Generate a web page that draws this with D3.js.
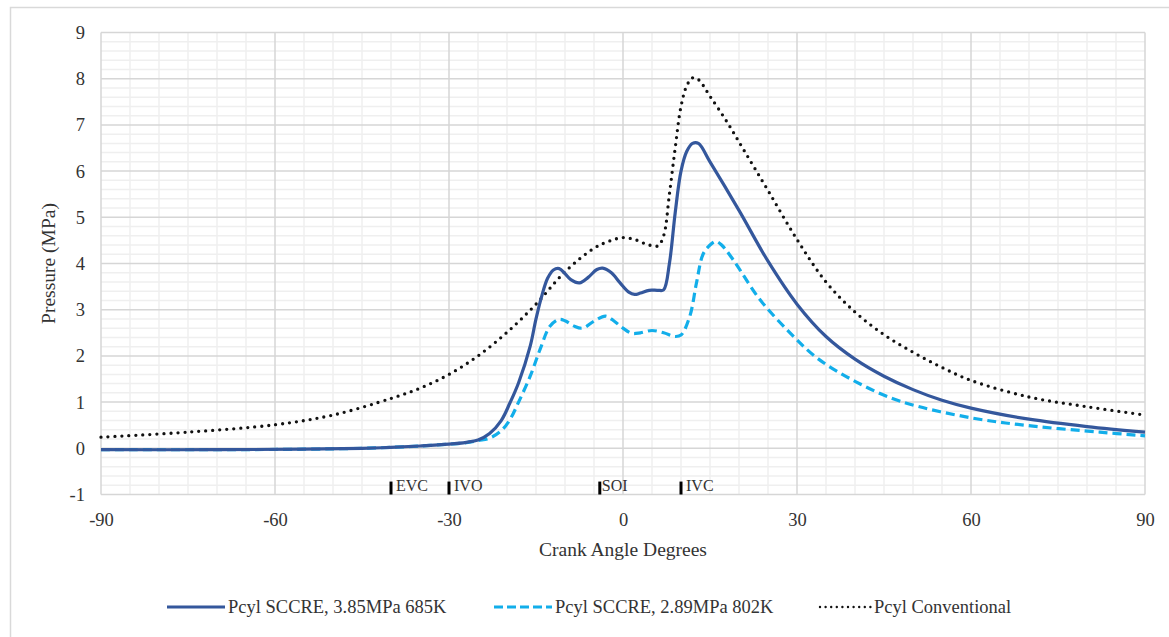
<!DOCTYPE html>
<html>
<head>
<meta charset="utf-8">
<script src="https://cdn.jsdelivr.net/npm/d3@7"></script>
<style>
  body { margin: 0; background: #fff; }
  text { font-family: "Liberation Serif", "DejaVu Serif", serif; fill: #333; }
</style>
</head>
<body>
<div id="chart"></div>
<script>
const width = 1169;
const height = 637;
const serif = "'Liberation Serif', 'DejaVu Serif', serif";

// Crank angle (deg) and cylinder pressure (MPa)
const angleA = [-90, -70, -55, -45, -40, -35, -30, -27, -25, -23, -21, -19.5, -18, -16, -15, -14, -13, -12, -11, -10, -9, -7.5, -6, -4.5, -3.5, -2, -0.5, 1, 2, 3, 4.5, 6, 7, 8, 9, 10, 11, 12, 13, 15, 20, 25, 30, 35, 40, 45, 50, 55, 60, 70, 80, 90];
const pressA = [-0.03, -0.03, -0.02, 0.0, 0.02, 0.05, 0.09, 0.13, 0.18, 0.32, 0.6, 0.98, 1.42, 2.21, 2.8, 3.3, 3.68, 3.86, 3.89, 3.78, 3.65, 3.58, 3.7, 3.87, 3.9, 3.8, 3.58, 3.38, 3.33, 3.36, 3.42, 3.42, 3.43, 4.0, 5.1, 6.0, 6.43, 6.6, 6.6, 6.2, 5.15, 4.05, 3.12, 2.42, 1.93, 1.56, 1.27, 1.04, 0.87, 0.63, 0.47, 0.35];

const angleB = [-90, -70, -55, -45, -40, -35, -30, -27, -25, -23, -21, -19.5, -18, -16, -14.3, -12.6, -11, -10, -8.5, -7, -5, -3, -1.5, 0, 1.5, 3, 5, 7, 9, 10, 11.5, 12.7, 13.8, 15, 16, 17, 19, 23.6, 28.8, 33.4, 40, 47.8, 60, 70.7, 82.2, 90];
const pressB = [-0.03, -0.03, -0.02, 0.0, 0.02, 0.05, 0.09, 0.12, 0.17, 0.22, 0.38, 0.62, 1.0, 1.56, 2.14, 2.64, 2.79, 2.76, 2.65, 2.6, 2.75, 2.86, 2.75, 2.6, 2.49, 2.5, 2.55, 2.5, 2.42, 2.45, 2.85, 3.6, 4.2, 4.4, 4.48, 4.4, 4.08, 3.22, 2.5, 1.96, 1.45, 1.02, 0.66, 0.48, 0.35, 0.27];

const angleC = [-90, -75, -60, -50, -40, -35, -30, -25, -20, -15, -10, -5, -2, 0, 2, 4, 6, 7, 8, 9, 10, 11, 12, 13, 15, 18, 21, 25, 30, 35, 40, 45, 50, 55, 60, 70, 80, 90];
const pressC = [0.24, 0.35, 0.51, 0.72, 1.08, 1.3, 1.6, 2.0, 2.51, 3.12, 3.82, 4.33, 4.5, 4.56, 4.52, 4.42, 4.38, 4.6, 5.5, 6.5, 7.4, 7.85, 8.02, 7.98, 7.62, 7.05, 6.42, 5.58, 4.52, 3.6, 2.95, 2.46, 2.08, 1.75, 1.47, 1.11, 0.9, 0.72];

const seriesNames = ["Pcyl SCCRE, 3.85MPa 685K", "Pcyl SCCRE, 2.89MPa 802K", "Pcyl Conventional"];

// Valve / injection events
const eventAngles = [-40, -30, -4, 10];
const eventLabels = ["EVC", "IVO", "SOI", "IVC"];

const xTicks = [-90, -60, -30, 0, 30, 60, 90];
const yTicks = [-1, 0, 1, 2, 3, 4, 5, 6, 7, 8, 9];

const margin = { left: 101, right: 24, top: 32.5, bottom: 142.5 };

const svg = d3.select("#chart").append("svg")
  .attr("width", width)
  .attr("height", height)
  .attr("font-family", serif);

// outer chart frame (runs off the page on the right and bottom)
svg.append("rect")
  .attr("x", 10.5).attr("y", 7.5)
  .attr("width", 1200).attr("height", 700)
  .attr("fill", "none").attr("stroke", "#d9d9d9").attr("stroke-width", 1.5);

const x = d3.scaleLinear().domain([-90, 90]).range([margin.left, width - margin.right]);
const y = d3.scaleLinear().domain([-1, 9]).range([height - margin.bottom, margin.top]);

// minor grid
const grid = svg.append("g");
grid.selectAll("line.vminor")
  .data(d3.range(-90, 91, 5).filter(d => d % 30 !== 0))
  .join("line")
  .attr("x1", d => x(d)).attr("x2", d => x(d))
  .attr("y1", y(-1)).attr("y2", y(9))
  .attr("stroke", "#efefef").attr("stroke-width", 1.5);
grid.selectAll("line.hminor")
  .data(d3.range(-10, 91, 2).map(d => d / 10).filter(d => Math.abs(d - Math.round(d)) > 1e-6))
  .join("line")
  .attr("x1", x(-90)).attr("x2", x(90))
  .attr("y1", d => y(d)).attr("y2", d => y(d))
  .attr("stroke", "#efefef").attr("stroke-width", 1.5);

// major grid
grid.selectAll("line.vmajor")
  .data(xTicks)
  .join("line")
  .attr("x1", d => x(d)).attr("x2", d => x(d))
  .attr("y1", y(-1)).attr("y2", y(9))
  .attr("stroke", "#d6d6d6").attr("stroke-width", 1.5);
grid.selectAll("line.hmajor")
  .data(yTicks)
  .join("line")
  .attr("x1", x(-90)).attr("x2", x(90))
  .attr("y1", d => y(d)).attr("y2", d => y(d))
  .attr("stroke", "#d6d6d6").attr("stroke-width", 1.5);

// axes (labels only, Excel style, plain hyphen minus)
const fmt = d => String(d);
const xAxis = svg.append("g")
  .attr("transform", `translate(0,${y(-1)})`)
  .call(d3.axisBottom(x).tickValues(xTicks).tickFormat(fmt).tickSize(0).tickPadding(18));
const yAxis = svg.append("g")
  .attr("transform", `translate(${x(-90)},0)`)
  .call(d3.axisLeft(y).tickValues(yTicks).tickFormat(fmt).tickSize(0).tickPadding(16));
[xAxis, yAxis].forEach(a => {
  a.attr("font-family", serif).attr("font-size", 18.5);
  a.select(".domain").remove();
  a.selectAll("text")
    .style("font-family", serif)
    .style("font-size", "18.5px")
    .attr("fill", "#333");
});

// axis titles
svg.append("text")
  .attr("x", (x(-90) + x(90)) / 2).attr("y", 556)
  .attr("text-anchor", "middle")
  .style("font-family", serif)
  .style("font-size", "19.5px")
  .text("Crank Angle Degrees");
svg.append("text")
  .attr("transform", `translate(55,${(y(-1) + y(9)) / 2}) rotate(-90)`)
  .attr("text-anchor", "middle")
  .style("font-family", serif)
  .style("font-size", "19.5px")
  .text("Pressure (MPa)");

// event markers
const ev = svg.append("g");
eventAngles.forEach((a, i) => {
  ev.append("line")
    .attr("x1", x(a)).attr("x2", x(a))
    .attr("y1", y(-0.72)).attr("y2", y(-1))
    .attr("stroke", "#000").attr("stroke-width", 3);
  ev.append("text")
    .attr("x", x(a) + (eventLabels[i] === "SOI" ? 2 : 5)).attr("y", y(-0.93))
    .style("font-family", serif)
    .style("font-size", "16px")
    .text(eventLabels[i]);
});

// series
const line = d3.line()
  .x(d => x(d[0]))
  .y(d => y(d[1]))
  .curve(d3.curveCatmullRom.alpha(0.5));

const styles = [
  { color: "#34579c", width: 3.2, dash: null, cap: "butt" },
  { color: "#12aeea", width: 3.2, dash: "9,5", cap: "butt" },
  { color: "#111", width: 3.3, dash: "0,7", cap: "round" }
];
const seriesData = [
  d3.zip(angleC, pressC),
  d3.zip(angleB, pressB),
  d3.zip(angleA, pressA)
];
const seriesStyle = [styles[2], styles[1], styles[0]];

seriesData.forEach((data, i) => {
  const s = seriesStyle[i];
  svg.append("path")
    .datum(data)
    .attr("d", line)
    .attr("fill", "none")
    .attr("stroke", s.color)
    .attr("stroke-width", s.width)
    .attr("stroke-linecap", s.cap)
    .attr("stroke-dasharray", s.dash);
});

// legend
const legendX = [167, 494, 820];
const legendY = 607;
seriesNames.forEach((name, i) => {
  const s = styles[i];
  const g = svg.append("g").attr("transform", `translate(${legendX[i]},${legendY})`);
  g.append("line")
    .attr("x1", 0).attr("x2", i === 2 ? 51 : 58)
    .attr("y1", 0).attr("y2", 0)
    .attr("stroke", s.color)
    .attr("stroke-width", i === 2 ? 2.4 : 3.2)
    .attr("stroke-linecap", s.cap)
    .attr("stroke-dasharray", i === 1 ? "9,4" : (i === 2 ? "0,5.6" : null));
  g.append("text")
    .attr("x", i === 2 ? 54 : 61).attr("y", 6)
    .style("font-family", serif)
    .style("font-size", "18.5px")
    .text(name);
});
</script>
</body>
</html>
